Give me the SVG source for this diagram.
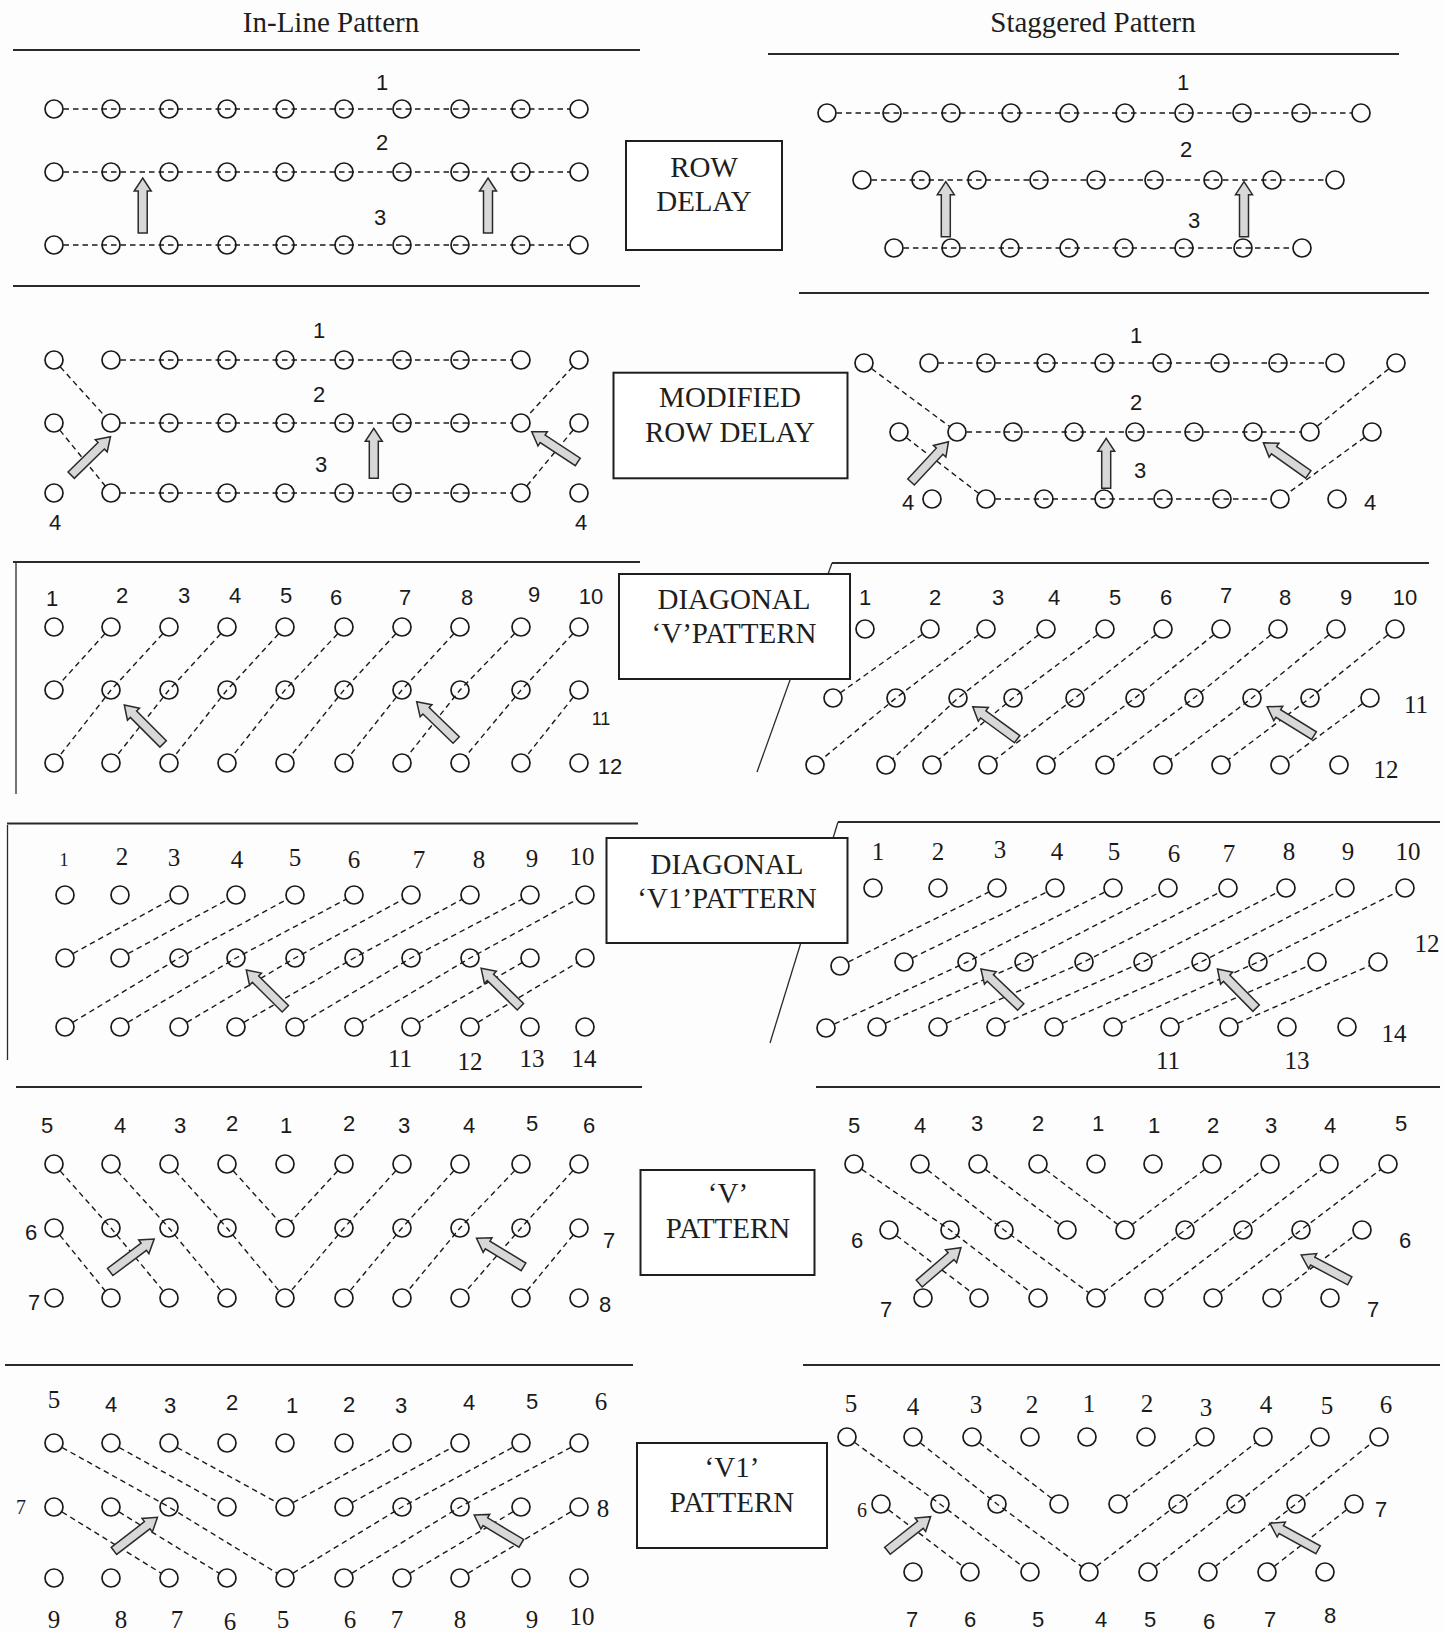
<svg xmlns="http://www.w3.org/2000/svg" xmlns:xlink="http://www.w3.org/1999/xlink" width="1444" height="1632" viewBox="0 0 1444 1632">
<style>
.bg{fill:#fdfdfd}
circle{fill:#fff;stroke:#1a1a1a;stroke-width:1.7}
circle.p{fill:none}
.d{fill:none;stroke:#1a1a1a;stroke-width:1.4;stroke-dasharray:5.5 4}
.sep{stroke:#2a2a2a;stroke-width:2.2;fill:none}
.thin{stroke:#2a2a2a;stroke-width:1.3;fill:none}
.box{fill:#fff;stroke:#1e1e1e;stroke-width:2}
.bt{font-family:"Liberation Serif","Times New Roman",serif;font-size:29px;fill:#1e1e1e;text-anchor:middle}
.ttl{font-family:"Liberation Serif","Times New Roman",serif;font-size:29px;fill:#1e1e1e;text-anchor:middle}
.s{font-family:"Liberation Sans",Arial,sans-serif;font-size:22px;fill:#1a1a1a;text-anchor:middle}
.r{font-family:"Liberation Serif","Times New Roman",serif;font-size:25px;fill:#1a1a1a;text-anchor:middle}
.ar{fill:#d8d8d8;stroke:#2a2a2a;stroke-width:1.5;stroke-linejoin:miter}
</style>
<defs>
<path id="arw" class="ar" d="M0,0 L8.5,13 L4.5,13 L4.5,55 L-4.5,55 L-4.5,13 L-8.5,13 Z"/>
<path id="arws" class="ar" d="M0,0 L8.5,13 L4.5,13 L4.5,50 L-4.5,50 L-4.5,13 L-8.5,13 Z"/>
</defs>
<rect class="bg" x="0" y="0" width="1444" height="1632"/>

<g id="separators">
<line class="sep" x1="13" y1="50" x2="640" y2="50"/>
<line class="sep" x1="768" y1="54" x2="1399" y2="54"/>
<line class="sep" x1="13" y1="286" x2="640" y2="286"/>
<line class="sep" x1="799" y1="293" x2="1429" y2="293"/>
<line class="sep" x1="13" y1="562" x2="640" y2="562"/>
<line class="sep" x1="832" y1="563" x2="1429" y2="563"/>
<line class="thin" x1="16" y1="563" x2="16" y2="794"/>
<line class="thin" x1="832" y1="563" x2="757" y2="772"/>
<line class="sep" x1="7" y1="823.5" x2="638" y2="823.5"/>
<line class="sep" x1="838" y1="822" x2="1440" y2="822"/>
<line class="thin" x1="7.5" y1="825" x2="7.5" y2="1060"/>
<line class="thin" x1="838" y1="822" x2="770" y2="1043"/>
<line class="sep" x1="16" y1="1087" x2="642" y2="1087"/>
<line class="sep" x1="816" y1="1087" x2="1440" y2="1087"/>
<line class="sep" x1="5" y1="1365" x2="633" y2="1365"/>
<line class="sep" x1="803" y1="1365" x2="1440" y2="1365"/>
</g>

<g id="titles">
<text class="ttl" x="331" y="32">In-Line Pattern</text>
<text class="ttl" x="1093" y="32">Staggered Pattern</text>
</g>

<g id="connectors">
<path class="d" d="M54,109 H579 M54,172 H579 M54,245 H579"/>
<path class="d" d="M827,113 H1361 M862,180 H1335 M894,248 H1302"/>
<path class="d" d="M111,360 H521 M111,423 H521 M111,493 H521 M54,360 L111,423 M54,423 L111,493 M579,360 L521,423 M579,423 L521,493"/>
<path class="d" d="M929,363 H1335 M957,432 H1310 M986,499 H1280 M864,363 L957,432 M899,432 L986,499 M1396,363 L1310,432 M1372,432 L1280,499"/>
<path class="d" d="M111,627 L54,690 M169,627 L111,690 L54,763 M227,627 L169,690 L111,763 M285,627 L227,690 L169,763 M344,627 L285,690 L227,763 M402,627 L344,690 L285,763 M460,627 L402,690 L344,763 M521,627 L460,690 L402,763 M579,627 L521,690 L460,763 M579,690 L521,763"/>
<path class="d" d="M930,629 L833,698 M986,629 L896,698 L815,765 M1046,629 L958,698 L886,765 M1105,629 L1013,698 L932,765 M1163,629 L1075,698 L988,765 M1221,629 L1135,698 L1046,765 M1278,629 L1194,698 L1105,765 M1336,629 L1252,698 L1163,765 M1395,629 L1310,698 L1221,765 M1370,698 L1280,765"/>
<path class="d" d="M65,958 L179,895 M120,958 L236,895 M65,1027 L179,958 L295,895 M120,1027 L236,958 L354,895 M179,1027 L295,958 L411,895 M236,1027 L354,958 L470,895 M295,1027 L411,958 L530,895 M354,1027 L470,958 L585,895 M411,1027 L530,958 M470,1027 L585,958"/>
<path class="d" d="M840,966 L997,888 M904,962 L1055,888 M826,1028 L967,962 L1113,888 M877,1027 L1024,962 L1168,888 M938,1027 L1084,962 L1228,888 M996,1027 L1143,962 L1286,888 M1054,1027 L1201,962 L1345,888 M1113,1027 L1258,962 L1405,888 M1170,1027 L1317,962 M1229,1027 L1378,962"/>
<path class="d" d="M54,1164 L111,1228 L169,1298 M111,1164 L169,1228 L227,1298 M169,1164 L227,1228 L285,1298 M227,1164 L285,1228 M344,1164 L285,1228 M402,1164 L344,1228 L285,1298 M460,1164 L402,1228 L344,1298 M521,1164 L460,1228 L402,1298 M579,1164 L521,1228 L460,1298 M579,1228 L521,1298 M54,1228 L111,1298"/>
<path class="d" d="M854,1164 L950,1230 L1038,1298 M920,1164 L1004,1230 L1096,1298 M978,1164 L1067,1230 M1038,1164 L1125,1230 M1212,1164 L1125,1230 M1096,1298 L1185,1230 L1270,1164 M1154,1298 L1243,1230 L1329,1164 M1213,1298 L1301,1230 L1388,1164 M1272,1298 L1362,1230 M889,1230 L979,1298"/>
<path class="d" d="M54,1443 L169,1507 L285,1578 M111,1443 L227,1507 M169,1443 L285,1507 M54,1507 L169,1578 M111,1507 L227,1578 M285,1507 L402,1443 M344,1507 L460,1443 M285,1578 L402,1507 L521,1443 M344,1578 L460,1507 L579,1443 M402,1578 L521,1507 M460,1578 L579,1507"/>
<path class="d" d="M847,1437 L940,1504 L1030,1572 M913,1437 L997,1504 L1089,1572 M972,1437 L1059,1504 M881,1504 L970,1572 M1118,1504 L1205,1437 M1089,1572 L1178,1504 L1263,1437 M1148,1572 L1236,1504 L1320,1437 M1208,1572 L1296,1504 L1379,1437 M1267,1572 L1354,1504"/>
</g>

<g id="inline-row-delay">
<circle cx="54" cy="109" r="9"/><circle class="p" cx="111" cy="109" r="9"/><circle class="p" cx="169" cy="109" r="9"/><circle class="p" cx="227" cy="109" r="9"/><circle class="p" cx="285" cy="109" r="9"/><circle class="p" cx="344" cy="109" r="9"/><circle class="p" cx="402" cy="109" r="9"/><circle class="p" cx="460" cy="109" r="9"/><circle class="p" cx="521" cy="109" r="9"/><circle cx="579" cy="109" r="9"/>
<circle cx="54" cy="172" r="9"/><circle class="p" cx="111" cy="172" r="9"/><circle class="p" cx="169" cy="172" r="9"/><circle class="p" cx="227" cy="172" r="9"/><circle class="p" cx="285" cy="172" r="9"/><circle class="p" cx="344" cy="172" r="9"/><circle class="p" cx="402" cy="172" r="9"/><circle class="p" cx="460" cy="172" r="9"/><circle class="p" cx="521" cy="172" r="9"/><circle cx="579" cy="172" r="9"/>
<circle cx="54" cy="245" r="9"/><circle class="p" cx="111" cy="245" r="9"/><circle class="p" cx="169" cy="245" r="9"/><circle class="p" cx="227" cy="245" r="9"/><circle class="p" cx="285" cy="245" r="9"/><circle class="p" cx="344" cy="245" r="9"/><circle class="p" cx="402" cy="245" r="9"/><circle class="p" cx="460" cy="245" r="9"/><circle class="p" cx="521" cy="245" r="9"/><circle cx="579" cy="245" r="9"/>
<text class="s" x="382" y="90">1</text><text class="s" x="382" y="150">2</text><text class="s" x="380" y="225">3</text>
<use xlink:href="#arw" transform="translate(142.7,178)"/>
<use xlink:href="#arw" transform="translate(488,178)"/>
</g>

<g id="staggered-row-delay">
<circle cx="827" cy="113" r="9"/><circle class="p" cx="892" cy="113" r="9"/><circle class="p" cx="951" cy="113" r="9"/><circle class="p" cx="1011" cy="113" r="9"/><circle class="p" cx="1069" cy="113" r="9"/><circle class="p" cx="1125" cy="113" r="9"/><circle class="p" cx="1184" cy="113" r="9"/><circle class="p" cx="1242" cy="113" r="9"/><circle class="p" cx="1301" cy="113" r="9"/><circle cx="1361" cy="113" r="9"/>
<circle cx="862" cy="180" r="9"/><circle class="p" cx="921" cy="180" r="9"/><circle class="p" cx="977" cy="180" r="9"/><circle class="p" cx="1039" cy="180" r="9"/><circle class="p" cx="1096" cy="180" r="9"/><circle class="p" cx="1154" cy="180" r="9"/><circle class="p" cx="1213" cy="180" r="9"/><circle class="p" cx="1272" cy="180" r="9"/><circle cx="1335" cy="180" r="9"/>
<circle cx="894" cy="248" r="9"/><circle class="p" cx="951" cy="248" r="9"/><circle class="p" cx="1010" cy="248" r="9"/><circle class="p" cx="1069" cy="248" r="9"/><circle class="p" cx="1124" cy="248" r="9"/><circle class="p" cx="1184" cy="248" r="9"/><circle class="p" cx="1243" cy="248" r="9"/><circle cx="1302" cy="248" r="9"/>
<text class="s" x="1183" y="90">1</text><text class="s" x="1186" y="157">2</text><text class="s" x="1194" y="228">3</text>
<use xlink:href="#arw" transform="translate(945.8,181.7)"/>
<use xlink:href="#arw" transform="translate(1244,181.7)"/>
</g>

<g id="box-row-delay">
<rect class="box" x="626" y="141" width="156" height="109"/>
<text class="bt" x="704" y="177">ROW</text>
<text class="bt" x="704" y="211">DELAY</text>
</g>

<g id="inline-modified-row-delay">
<circle cx="54" cy="360" r="9"/><circle cx="111" cy="360" r="9"/><circle class="p" cx="169" cy="360" r="9"/><circle class="p" cx="227" cy="360" r="9"/><circle class="p" cx="285" cy="360" r="9"/><circle class="p" cx="344" cy="360" r="9"/><circle class="p" cx="402" cy="360" r="9"/><circle class="p" cx="460" cy="360" r="9"/><circle cx="521" cy="360" r="9"/><circle cx="579" cy="360" r="9"/>
<circle cx="54" cy="423" r="9"/><circle cx="111" cy="423" r="9"/><circle class="p" cx="169" cy="423" r="9"/><circle class="p" cx="227" cy="423" r="9"/><circle class="p" cx="285" cy="423" r="9"/><circle class="p" cx="344" cy="423" r="9"/><circle class="p" cx="402" cy="423" r="9"/><circle class="p" cx="460" cy="423" r="9"/><circle cx="521" cy="423" r="9"/><circle cx="579" cy="423" r="9"/>
<circle cx="54" cy="493" r="9"/><circle cx="111" cy="493" r="9"/><circle class="p" cx="169" cy="493" r="9"/><circle class="p" cx="227" cy="493" r="9"/><circle class="p" cx="285" cy="493" r="9"/><circle class="p" cx="344" cy="493" r="9"/><circle class="p" cx="402" cy="493" r="9"/><circle class="p" cx="460" cy="493" r="9"/><circle cx="521" cy="493" r="9"/><circle cx="579" cy="493" r="9"/>
<text class="s" x="319" y="338">1</text><text class="s" x="319" y="402">2</text><text class="s" x="321" y="472">3</text>
<text class="s" x="55" y="530">4</text><text class="s" x="581" y="530">4</text>
<use xlink:href="#arw" transform="translate(110.5,436.7) rotate(45.6)"/>
<use xlink:href="#arws" transform="translate(373.8,428.3)"/>
<use xlink:href="#arw" transform="translate(531.8,431.7) rotate(-56.7)"/>
</g>

<g id="staggered-modified-row-delay">
<circle cx="864" cy="363" r="9"/><circle cx="929" cy="363" r="9"/><circle class="p" cx="986" cy="363" r="9"/><circle class="p" cx="1046" cy="363" r="9"/><circle class="p" cx="1104" cy="363" r="9"/><circle class="p" cx="1162" cy="363" r="9"/><circle class="p" cx="1220" cy="363" r="9"/><circle class="p" cx="1278" cy="363" r="9"/><circle cx="1335" cy="363" r="9"/><circle cx="1396" cy="363" r="9"/>
<circle cx="899" cy="432" r="9"/><circle cx="957" cy="432" r="9"/><circle class="p" cx="1013" cy="432" r="9"/><circle class="p" cx="1074" cy="432" r="9"/><circle class="p" cx="1135" cy="432" r="9"/><circle class="p" cx="1194" cy="432" r="9"/><circle class="p" cx="1253" cy="432" r="9"/><circle cx="1310" cy="432" r="9"/><circle cx="1372" cy="432" r="9"/>
<circle cx="932" cy="499" r="9"/><circle cx="986" cy="499" r="9"/><circle class="p" cx="1044" cy="499" r="9"/><circle class="p" cx="1104" cy="499" r="9"/><circle class="p" cx="1163" cy="499" r="9"/><circle class="p" cx="1222" cy="499" r="9"/><circle cx="1280" cy="499" r="9"/><circle cx="1337" cy="499" r="9"/>
<text class="s" x="1136" y="343">1</text><text class="s" x="1136" y="410">2</text><text class="s" x="1140" y="478">3</text>
<text class="s" x="908" y="510">4</text><text class="s" x="1370" y="510">4</text>
<use xlink:href="#arw" transform="translate(948.5,441.7) rotate(42.9)"/>
<use xlink:href="#arws" transform="translate(1106.2,438.3)"/>
<use xlink:href="#arw" transform="translate(1263.4,442.7) rotate(-54.8)"/>
</g>

<g id="box-modified-row-delay">
<rect class="box" x="613.5" y="372.7" width="234" height="105.6"/>
<text class="bt" x="730" y="407">MODIFIED</text>
<text class="bt" x="730" y="442">ROW DELAY</text>
</g>

<g id="inline-diagonal-v">
<circle cx="54" cy="627" r="9"/><circle cx="111" cy="627" r="9"/><circle cx="169" cy="627" r="9"/><circle cx="227" cy="627" r="9"/><circle cx="285" cy="627" r="9"/><circle cx="344" cy="627" r="9"/><circle cx="402" cy="627" r="9"/><circle cx="460" cy="627" r="9"/><circle cx="521" cy="627" r="9"/><circle cx="579" cy="627" r="9"/>
<circle cx="54" cy="690" r="9"/><circle class="p" cx="111" cy="690" r="9"/><circle class="p" cx="169" cy="690" r="9"/><circle class="p" cx="227" cy="690" r="9"/><circle class="p" cx="285" cy="690" r="9"/><circle class="p" cx="344" cy="690" r="9"/><circle class="p" cx="402" cy="690" r="9"/><circle class="p" cx="460" cy="690" r="9"/><circle class="p" cx="521" cy="690" r="9"/><circle cx="579" cy="690" r="9"/>
<circle cx="54" cy="763" r="9"/><circle cx="111" cy="763" r="9"/><circle cx="169" cy="763" r="9"/><circle cx="227" cy="763" r="9"/><circle cx="285" cy="763" r="9"/><circle cx="344" cy="763" r="9"/><circle cx="402" cy="763" r="9"/><circle cx="460" cy="763" r="9"/><circle cx="521" cy="763" r="9"/><circle cx="579" cy="763" r="9"/>
<text class="s" x="52" y="606">1</text><text class="s" x="122" y="603">2</text><text class="s" x="184" y="603">3</text><text class="s" x="235" y="603">4</text><text class="s" x="286" y="603">5</text><text class="s" x="336" y="605">6</text><text class="s" x="405" y="605">7</text><text class="s" x="467" y="605">8</text><text class="s" x="534" y="602">9</text><text class="s" x="591" y="604">10</text>
<text class="s" x="601" y="725" style="font-size:18px">11</text>
<text class="s" x="610" y="774">12</text>
<use xlink:href="#arw" transform="translate(124.3,705) rotate(-44.9)"/>
<use xlink:href="#arw" transform="translate(416.7,701.7) rotate(-45.9)"/>
</g>

<g id="staggered-diagonal-v">
<circle cx="865" cy="629" r="9"/><circle cx="930" cy="629" r="9"/><circle cx="986" cy="629" r="9"/><circle cx="1046" cy="629" r="9"/><circle cx="1105" cy="629" r="9"/><circle cx="1163" cy="629" r="9"/><circle cx="1221" cy="629" r="9"/><circle cx="1278" cy="629" r="9"/><circle cx="1336" cy="629" r="9"/><circle cx="1395" cy="629" r="9"/>
<circle cx="833" cy="698" r="9"/><circle class="p" cx="896" cy="698" r="9"/><circle class="p" cx="958" cy="698" r="9"/><circle class="p" cx="1013" cy="698" r="9"/><circle class="p" cx="1075" cy="698" r="9"/><circle class="p" cx="1135" cy="698" r="9"/><circle class="p" cx="1194" cy="698" r="9"/><circle class="p" cx="1252" cy="698" r="9"/><circle class="p" cx="1310" cy="698" r="9"/><circle cx="1370" cy="698" r="9"/>
<circle cx="815" cy="765" r="9"/><circle cx="886" cy="765" r="9"/><circle cx="932" cy="765" r="9"/><circle cx="988" cy="765" r="9"/><circle cx="1046" cy="765" r="9"/><circle cx="1105" cy="765" r="9"/><circle cx="1163" cy="765" r="9"/><circle cx="1221" cy="765" r="9"/><circle cx="1280" cy="765" r="9"/><circle cx="1339" cy="765" r="9"/>
<text class="s" x="865" y="605">1</text><text class="s" x="935" y="605">2</text><text class="s" x="998" y="605">3</text><text class="s" x="1054" y="605">4</text><text class="s" x="1115" y="605">5</text><text class="s" x="1166" y="605">6</text><text class="s" x="1226" y="603">7</text><text class="s" x="1285" y="605">8</text><text class="s" x="1346" y="605">9</text><text class="s" x="1405" y="605">10</text>
<text class="r" x="1416" y="713">11</text>
<text class="r" x="1386" y="778">12</text>
<use xlink:href="#arw" transform="translate(972.8,706.7) rotate(-53.8)"/>
<use xlink:href="#arw" transform="translate(1267.2,706.7) rotate(-58.3)"/>
</g>

<g id="box-diagonal-v">
<rect class="box" x="619" y="574" width="231" height="105"/>
<text class="bt" x="734" y="609">DIAGONAL</text>
<text class="bt" x="734" y="643">‘V’PATTERN</text>
</g>

<g id="inline-diagonal-v1">
<circle cx="65" cy="895" r="9"/><circle cx="120" cy="895" r="9"/><circle cx="179" cy="895" r="9"/><circle cx="236" cy="895" r="9"/><circle cx="295" cy="895" r="9"/><circle cx="354" cy="895" r="9"/><circle cx="411" cy="895" r="9"/><circle cx="470" cy="895" r="9"/><circle cx="530" cy="895" r="9"/><circle cx="585" cy="895" r="9"/>
<circle cx="65" cy="958" r="9"/><circle cx="120" cy="958" r="9"/><circle class="p" cx="179" cy="958" r="9"/><circle class="p" cx="236" cy="958" r="9"/><circle class="p" cx="295" cy="958" r="9"/><circle class="p" cx="354" cy="958" r="9"/><circle class="p" cx="411" cy="958" r="9"/><circle class="p" cx="470" cy="958" r="9"/><circle cx="530" cy="958" r="9"/><circle cx="585" cy="958" r="9"/>
<circle cx="65" cy="1027" r="9"/><circle cx="120" cy="1027" r="9"/><circle cx="179" cy="1027" r="9"/><circle cx="236" cy="1027" r="9"/><circle cx="295" cy="1027" r="9"/><circle cx="354" cy="1027" r="9"/><circle cx="411" cy="1027" r="9"/><circle cx="470" cy="1027" r="9"/><circle cx="530" cy="1027" r="9"/><circle cx="585" cy="1027" r="9"/>
<text class="r" x="64" y="866" style="font-size:18px">1</text><text class="r" x="122" y="865">2</text><text class="r" x="174" y="866">3</text><text class="r" x="237" y="868">4</text><text class="r" x="295" y="866">5</text><text class="r" x="354" y="868">6</text><text class="r" x="419" y="868">7</text><text class="r" x="479" y="868">8</text><text class="r" x="532" y="867">9</text><text class="r" x="582" y="865">10</text>
<text class="r" x="400" y="1067">11</text><text class="r" x="470" y="1070">12</text><text class="r" x="532" y="1067">13</text><text class="r" x="584" y="1067">14</text>
<use xlink:href="#arw" transform="translate(246.3,970) rotate(-45.2)"/>
<use xlink:href="#arw" transform="translate(481.1,968.3) rotate(-45.6)"/>
</g>

<g id="staggered-diagonal-v1">
<circle cx="873" cy="888" r="9"/><circle cx="938" cy="888" r="9"/><circle cx="997" cy="888" r="9"/><circle cx="1055" cy="888" r="9"/><circle cx="1113" cy="888" r="9"/><circle cx="1168" cy="888" r="9"/><circle cx="1228" cy="888" r="9"/><circle cx="1286" cy="888" r="9"/><circle cx="1345" cy="888" r="9"/><circle cx="1405" cy="888" r="9"/>
<circle cx="840" cy="966" r="9"/><circle cx="904" cy="962" r="9"/><circle class="p" cx="967" cy="962" r="9"/><circle class="p" cx="1024" cy="962" r="9"/><circle class="p" cx="1084" cy="962" r="9"/><circle class="p" cx="1143" cy="962" r="9"/><circle class="p" cx="1201" cy="962" r="9"/><circle class="p" cx="1258" cy="962" r="9"/><circle cx="1317" cy="962" r="9"/><circle cx="1378" cy="962" r="9"/>
<circle cx="826" cy="1028" r="9"/><circle cx="877" cy="1027" r="9"/><circle cx="938" cy="1027" r="9"/><circle cx="996" cy="1027" r="9"/><circle cx="1054" cy="1027" r="9"/><circle cx="1113" cy="1027" r="9"/><circle cx="1170" cy="1027" r="9"/><circle cx="1229" cy="1027" r="9"/><circle cx="1287" cy="1027" r="9"/><circle cx="1347" cy="1027" r="9"/>
<text class="r" x="878" y="860">1</text><text class="r" x="938" y="860">2</text><text class="r" x="1000" y="858">3</text><text class="r" x="1057" y="860">4</text><text class="r" x="1114" y="860">5</text><text class="r" x="1174" y="862">6</text><text class="r" x="1229" y="862">7</text><text class="r" x="1289" y="860">8</text><text class="r" x="1348" y="860">9</text><text class="r" x="1408" y="860">10</text>
<text class="r" x="1427" y="952">12</text><text class="r" x="1394" y="1042">14</text>
<text class="r" x="1168" y="1069">11</text><text class="r" x="1297" y="1069">13</text>
<use xlink:href="#arw" transform="translate(980.9,969) rotate(-46.4)"/>
<use xlink:href="#arw" transform="translate(1217.5,969) rotate(-44.6)"/>
</g>

<g id="box-diagonal-v1">
<rect class="box" x="606.5" y="838" width="241" height="105"/>
<text class="bt" x="727" y="874">DIAGONAL</text>
<text class="bt" x="727" y="908">‘V1’PATTERN</text>
</g>

<g id="inline-v">
<circle cx="54" cy="1164" r="9"/><circle cx="111" cy="1164" r="9"/><circle cx="169" cy="1164" r="9"/><circle cx="227" cy="1164" r="9"/><circle cx="285" cy="1164" r="9"/><circle cx="344" cy="1164" r="9"/><circle cx="402" cy="1164" r="9"/><circle cx="460" cy="1164" r="9"/><circle cx="521" cy="1164" r="9"/><circle cx="579" cy="1164" r="9"/>
<circle cx="54" cy="1228" r="9"/><circle class="p" cx="111" cy="1228" r="9"/><circle class="p" cx="169" cy="1228" r="9"/><circle class="p" cx="227" cy="1228" r="9"/><circle cx="285" cy="1228" r="9"/><circle class="p" cx="344" cy="1228" r="9"/><circle class="p" cx="402" cy="1228" r="9"/><circle class="p" cx="460" cy="1228" r="9"/><circle class="p" cx="521" cy="1228" r="9"/><circle cx="579" cy="1228" r="9"/>
<circle cx="54" cy="1298" r="9"/><circle cx="111" cy="1298" r="9"/><circle cx="169" cy="1298" r="9"/><circle cx="227" cy="1298" r="9"/><circle cx="285" cy="1298" r="9"/><circle cx="344" cy="1298" r="9"/><circle cx="402" cy="1298" r="9"/><circle cx="460" cy="1298" r="9"/><circle cx="521" cy="1298" r="9"/><circle cx="579" cy="1298" r="9"/>
<text class="s" x="47" y="1133">5</text><text class="s" x="120" y="1133">4</text><text class="s" x="180" y="1133">3</text><text class="s" x="232" y="1131">2</text><text class="s" x="286" y="1133">1</text><text class="s" x="349" y="1131">2</text><text class="s" x="404" y="1133">3</text><text class="s" x="469" y="1133">4</text><text class="s" x="532" y="1131">5</text><text class="s" x="589" y="1133">6</text>
<text class="s" x="31" y="1240">6</text><text class="s" x="34" y="1310">7</text>
<text class="s" x="609" y="1248">7</text><text class="s" x="605" y="1312">8</text>
<use xlink:href="#arw" transform="translate(154.2,1239) rotate(53.2)"/>
<use xlink:href="#arw" transform="translate(476.5,1238.3) rotate(-58.7)"/>
</g>

<g id="staggered-v">
<circle cx="854" cy="1164" r="9"/><circle cx="920" cy="1164" r="9"/><circle cx="978" cy="1164" r="9"/><circle cx="1038" cy="1164" r="9"/><circle cx="1096" cy="1164" r="9"/><circle cx="1153" cy="1164" r="9"/><circle cx="1212" cy="1164" r="9"/><circle cx="1270" cy="1164" r="9"/><circle cx="1329" cy="1164" r="9"/><circle cx="1388" cy="1164" r="9"/>
<circle cx="889" cy="1230" r="9"/><circle class="p" cx="950" cy="1230" r="9"/><circle class="p" cx="1004" cy="1230" r="9"/><circle cx="1067" cy="1230" r="9"/><circle cx="1125" cy="1230" r="9"/><circle class="p" cx="1185" cy="1230" r="9"/><circle class="p" cx="1243" cy="1230" r="9"/><circle class="p" cx="1301" cy="1230" r="9"/><circle cx="1362" cy="1230" r="9"/>
<circle cx="923" cy="1298" r="9"/><circle cx="979" cy="1298" r="9"/><circle cx="1038" cy="1298" r="9"/><circle cx="1096" cy="1298" r="9"/><circle cx="1154" cy="1298" r="9"/><circle cx="1213" cy="1298" r="9"/><circle cx="1272" cy="1298" r="9"/><circle cx="1330" cy="1298" r="9"/>
<text class="s" x="854" y="1133">5</text><text class="s" x="920" y="1133">4</text><text class="s" x="977" y="1131">3</text><text class="s" x="1038" y="1131">2</text><text class="s" x="1098" y="1131">1</text><text class="s" x="1154" y="1133">1</text><text class="s" x="1213" y="1133">2</text><text class="s" x="1271" y="1133">3</text><text class="s" x="1330" y="1133">4</text><text class="s" x="1401" y="1131">5</text>
<text class="s" x="857" y="1248">6</text><text class="s" x="1405" y="1248">6</text>
<text class="s" x="886" y="1317">7</text><text class="s" x="1373" y="1317">7</text>
<use xlink:href="#arw" transform="translate(960.9,1247.7) rotate(49.3)"/>
<use xlink:href="#arw" transform="translate(1301.2,1255) rotate(-62)"/>
</g>

<g id="box-v">
<rect class="box" x="640.5" y="1170" width="174" height="105"/>
<text class="bt" x="728" y="1203">‘V’</text>
<text class="bt" x="728" y="1238">PATTERN</text>
</g>

<g id="inline-v1">
<circle cx="54" cy="1443" r="9"/><circle cx="111" cy="1443" r="9"/><circle cx="169" cy="1443" r="9"/><circle cx="227" cy="1443" r="9"/><circle cx="285" cy="1443" r="9"/><circle cx="344" cy="1443" r="9"/><circle cx="402" cy="1443" r="9"/><circle cx="460" cy="1443" r="9"/><circle cx="521" cy="1443" r="9"/><circle cx="579" cy="1443" r="9"/>
<circle cx="54" cy="1507" r="9"/><circle cx="111" cy="1507" r="9"/><circle class="p" cx="169" cy="1507" r="9"/><circle cx="227" cy="1507" r="9"/><circle cx="285" cy="1507" r="9"/><circle cx="344" cy="1507" r="9"/><circle class="p" cx="402" cy="1507" r="9"/><circle class="p" cx="460" cy="1507" r="9"/><circle cx="521" cy="1507" r="9"/><circle cx="579" cy="1507" r="9"/>
<circle cx="54" cy="1578" r="9"/><circle cx="111" cy="1578" r="9"/><circle cx="169" cy="1578" r="9"/><circle cx="227" cy="1578" r="9"/><circle cx="285" cy="1578" r="9"/><circle cx="344" cy="1578" r="9"/><circle cx="402" cy="1578" r="9"/><circle cx="460" cy="1578" r="9"/><circle cx="521" cy="1578" r="9"/><circle cx="579" cy="1578" r="9"/>
<text class="r" x="54" y="1408">5</text><text class="s" x="111" y="1412">4</text><text class="s" x="170" y="1413">3</text><text class="s" x="232" y="1410">2</text><text class="s" x="292" y="1413">1</text><text class="s" x="349" y="1412">2</text><text class="s" x="401" y="1413">3</text><text class="s" x="469" y="1410">4</text><text class="s" x="532" y="1409">5</text><text class="r" x="601" y="1410">6</text>
<text class="r" x="21" y="1514" style="font-size:20px">7</text><text class="r" x="603" y="1517">8</text>
<text class="r" x="54" y="1628">9</text><text class="r" x="121" y="1628">8</text><text class="r" x="177" y="1628">7</text><text class="r" x="230" y="1630">6</text><text class="r" x="283" y="1628">5</text><text class="r" x="350" y="1628">6</text><text class="r" x="397" y="1628">7</text><text class="r" x="460" y="1628">8</text><text class="r" x="532" y="1628">9</text><text class="r" x="582" y="1625">10</text>
<use xlink:href="#arw" transform="translate(157.5,1517.3) rotate(52.4)"/>
<use xlink:href="#arw" transform="translate(474.2,1515) rotate(-59)"/>
</g>

<g id="staggered-v1">
<circle cx="847" cy="1437" r="9"/><circle cx="913" cy="1437" r="9"/><circle cx="972" cy="1437" r="9"/><circle cx="1030" cy="1437" r="9"/><circle cx="1087" cy="1437" r="9"/><circle cx="1146" cy="1437" r="9"/><circle cx="1205" cy="1437" r="9"/><circle cx="1263" cy="1437" r="9"/><circle cx="1320" cy="1437" r="9"/><circle cx="1379" cy="1437" r="9"/>
<circle cx="881" cy="1504" r="9"/><circle class="p" cx="940" cy="1504" r="9"/><circle class="p" cx="997" cy="1504" r="9"/><circle cx="1059" cy="1504" r="9"/><circle cx="1118" cy="1504" r="9"/><circle class="p" cx="1178" cy="1504" r="9"/><circle class="p" cx="1236" cy="1504" r="9"/><circle class="p" cx="1296" cy="1504" r="9"/><circle cx="1354" cy="1504" r="9"/>
<circle cx="913" cy="1572" r="9"/><circle cx="970" cy="1572" r="9"/><circle cx="1030" cy="1572" r="9"/><circle cx="1089" cy="1572" r="9"/><circle cx="1148" cy="1572" r="9"/><circle cx="1208" cy="1572" r="9"/><circle cx="1267" cy="1572" r="9"/><circle cx="1325" cy="1572" r="9"/>
<text class="r" x="851" y="1412">5</text><text class="r" x="913" y="1415">4</text><text class="r" x="976" y="1413">3</text><text class="r" x="1032" y="1413">2</text><text class="r" x="1089" y="1412">1</text><text class="r" x="1147" y="1412">2</text><text class="r" x="1206" y="1416">3</text><text class="r" x="1266" y="1413">4</text><text class="r" x="1327" y="1414">5</text><text class="r" x="1386" y="1413">6</text>
<text class="r" x="862" y="1517" style="font-size:20px">6</text><text class="s" x="1381" y="1517">7</text>
<text class="s" x="912" y="1627">7</text><text class="s" x="970" y="1627">6</text><text class="s" x="1038" y="1627">5</text><text class="s" x="1101" y="1627">4</text><text class="s" x="1150" y="1627">5</text><text class="s" x="1209" y="1629">6</text><text class="s" x="1270" y="1627">7</text><text class="s" x="1330" y="1623">8</text>
<use xlink:href="#arw" transform="translate(930.6,1516.7) rotate(51.7)"/>
<use xlink:href="#arw" transform="translate(1269.9,1523.3) rotate(-61.2)"/>
</g>

<g id="box-v1">
<rect class="box" x="637" y="1443" width="190" height="105"/>
<text class="bt" x="732" y="1477">‘V1’</text>
<text class="bt" x="732" y="1512">PATTERN</text>
</g>
</svg>
